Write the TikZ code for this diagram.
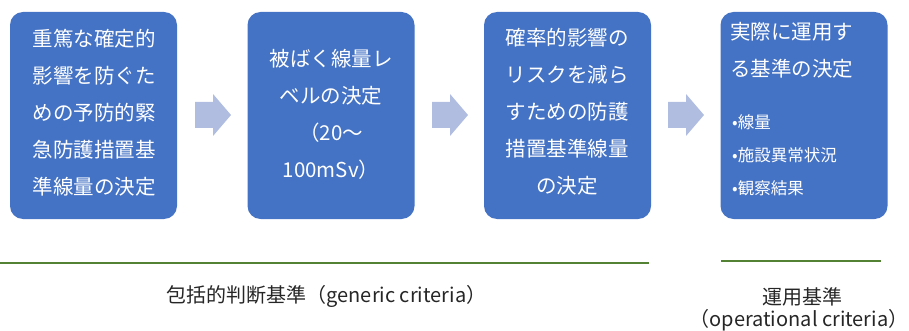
\documentclass[tikz,border=0pt]{standalone}
\usepackage{fontspec}
\setmainfont{Noto Sans CJK JP}
\definecolor{boxblue}{HTML}{4472C4}
\definecolor{arrowblue}{HTML}{B0BDE0}
\definecolor{linegreen}{HTML}{548235}
\tikzset{
  stagebox/.style={fill=boxblue, rounded corners=13pt, minimum width=167pt, minimum height=207pt, inner sep=0pt},
  boxtext/.style={text=white, align=center, font=\fontsize{20.5}{37}\selectfont},
  bullettext/.style={text=white, anchor=west, inner sep=0pt, font=\fontsize{16.5}{20}\selectfont},
  blockarrow/.style={fill=arrowblue},
  critline/.style={draw=linegreen, line width=2.2pt},
  labeltext/.style={text=black!85, align=center, inner sep=0pt}
}
\begin{document}
\begin{tikzpicture}[x=1pt,y=-1pt]
\useasboundingbox (0,0) rectangle (909,331);
% boxes
\node[stagebox] (b1) at (93.5,115.5) {};
\node[stagebox] (b2) at (331,115.5) {};
\node[stagebox] (b3) at (567.5,115.5) {};
\node[stagebox] (b4) at (804,115.5) {};
% box texts
\node[boxtext] (t1) at (94,113) {重篤な確定的\\影響を防ぐた\\めの予防的緊\\急防護措置基\\準線量の決定};
\node[boxtext] (t2) at (331,114) {被ばく線量レ\\ベルの決定\\（20～\\100mSv）};
\node[boxtext] (t3) at (567,111.5) {確率的影響の\\リスクを減ら\\すための防護\\措置基準線量\\の決定};
\node[boxtext, align=left, anchor=north west, inner sep=0pt] (t4) at (730,22) {実際に運用す\\る基準の決定};
% bullets
\node[bullettext] (u1) at (732,122) {•線量};
\node[bullettext] (u2) at (732,155) {•施設異常状況};
\node[bullettext] (u3) at (732,188) {•観察結果};
% block arrows
\foreach \ax in {195,432,668}{
  \fill[blockarrow] (\ax,102) -- (\ax+18,102) -- (\ax+18,94) -- (\ax+36,115) -- (\ax+18,136) -- (\ax+18,128) -- (\ax,128) -- cycle;
}
% criteria lines
\coordinate (g1) at (0,263);
\coordinate (g2) at (649,263);
\coordinate (o1) at (721,261);
\coordinate (o2) at (881,261);
\draw[critline] (g1) -- (g2);
\draw[critline] (o1) -- (o2);
% labels
\node[labeltext, font=\fontsize{20}{23}\selectfont] (lg) at (326.5,296) {包括的判断基準（generic criteria）};
\node[labeltext, font=\fontsize{20}{23}\selectfont] (lo1) at (802,297) {運用基準};
\node[labeltext, font=\fontsize{20}{23}\selectfont] (lo2) at (799,320) {（operational criteria）};
\end{tikzpicture}
\end{document}
